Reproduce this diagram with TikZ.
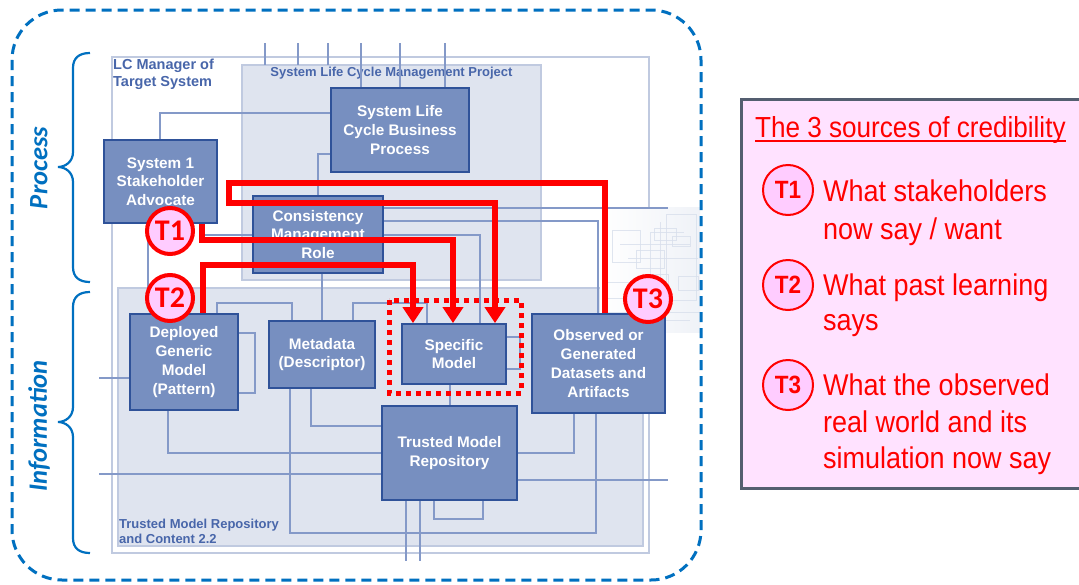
\documentclass[tikz,border=0pt]{standalone}
\usepackage{fontspec}
\setmainfont{Liberation Sans}
\newfontfamily\lgfont[FakeStretch=0.9]{Liberation Sans}
\newfontfamily\calfont{Carlito}
\usetikzlibrary{arrows.meta}

\definecolor{boxfill}{RGB}{119,143,192}
\definecolor{boxline}{RGB}{47,82,153}
\definecolor{areafill}{RGB}{223,228,239}
\definecolor{arealine}{RGB}{192,202,224}
\definecolor{wirecol}{RGB}{132,153,200}
\definecolor{labelblue}{RGB}{72,102,170}
\definecolor{frameblue}{RGB}{0,112,192}
\definecolor{tred}{RGB}{255,0,0}
\definecolor{tpink}{RGB}{255,204,255}
\definecolor{legendbg}{RGB}{255,226,255}
\definecolor{legendline}{RGB}{84,94,112}
\definecolor{ghost}{RGB}{216,223,236}

\begin{document}
\begin{tikzpicture}[x=1pt,y=-1pt,
  block/.style={draw=boxline, line width=1.8pt, fill=boxfill, text=white,
    font=\bfseries\fontsize{15.3}{18.7}\selectfont, align=center, inner sep=0pt},
  area/.style={draw=arealine, line width=1.2pt, fill=areafill},
  wire/.style={draw=wirecol, line width=1.3pt},
  feed/.style={draw=tred, line width=5.5pt, -{Triangle[width=20pt,length=16pt]}},
  tmark/.style={circle, draw=tred, line width=4pt, fill=tpink, minimum size=46pt,
    inner sep=0pt, text=tred, font=\calfont\bfseries\fontsize{30}{30}\selectfont},
  lmark/.style={circle, draw=tred, line width=2pt, fill=tpink, minimum size=50pt,
    inner sep=0pt, text=tred, font=\lgfont\bfseries\fontsize{25}{25}\selectfont},
  ltext/.style={text=tred, font=\lgfont\fontsize{30}{36}\selectfont,
    anchor=base west, inner sep=0pt},
  arealabel/.style={text=labelblue, inner sep=0pt, align=left},
  sidelabel/.style={rotate=90, text=frameblue, inner sep=0pt,
    font=\calfont\bfseries\itshape\fontsize{26.5}{26.5}\selectfont},
  brace/.style={draw=frameblue, line width=2.2pt},
  frame/.style={draw=frameblue, line width=3pt, dash pattern=on 10pt off 6pt,
    rounded corners=50pt}
]
\clip (0,0) rectangle (1079,584);
\fill[white] (0,0) rectangle (1079,584);

% containers
\draw[draw=arealine, line width=1.2pt, fill=white] (112,57) rectangle (649,553);
\draw[area] (242,65) rectangle (541,280);
\draw[area] (118,288) rectangle (643,546);

% faded overview sketch at the right edge
\shade[left color=white, right color=ghost!40] (600,207) rectangle (700,332);
\begin{scope}[draw=ghost, line width=0.7pt, opacity=0.8]
  \draw (612,230) rectangle (640,262);
  \draw (636,250) rectangle (664,268);
  \draw (654,228) rectangle (676,240);
  \draw (666,214) rectangle (696,300);
  \draw (672,236) rectangle (690,246);
  \draw (646,274) rectangle (668,290);
  \draw (678,276) rectangle (698,290);
  \draw (606,282) rectangle (640,298);
  \draw (620,244) -- (690,244);
  \draw (628,258) -- (698,258);
  \draw (650,300) -- (650,232) -- (684,232);
  \draw (660,222) -- (660,300);
  \draw (604,312) -- (700,312);
  \draw (615,320) -- (690,320);
\end{scope}

% area captions
\node[arealabel, anchor=north west, font=\bfseries\fontsize{14.5}{17}\selectfont]
  (lclabel) at (113,59) {LC Manager of\\Target System};
\node[arealabel, anchor=base, font=\bfseries\fontsize{13}{15}\selectfont]
  (projlabel) at (391.5,76) {System Life Cycle Management Project};
\node[arealabel, anchor=north west, font=\bfseries\fontsize{13}{15}\selectfont]
  (infolabel) at (119,519) {Trusted Model Repository\\and Content 2.2};

% blocks
\node[block, minimum width=138pt, minimum height=84pt] (slcbp) at (400,130)
  {System Life\\Cycle Business\\Process};
\node[block, minimum width=113pt, minimum height=83pt] (sys1) at (160.5,181.5)
  {System 1\\Stakeholder\\Advocate};
\node[block, minimum width=130pt, minimum height=77pt] (cmr) at (318,234.5)
  {Consistency\\Management\\Role};
\node[block, minimum width=108pt, minimum height=96pt] (dgm) at (184,362)
  {Deployed\\Generic\\Model\\(Pattern)};
\node[block, minimum width=106pt, minimum height=67pt] (meta) at (322,354.5)
  {Metadata\\(Descriptor)};
\node[block, minimum width=104pt, minimum height=60pt] (spec) at (454,354)
  {Specific\\Model};
\node[block, minimum width=135pt, minimum height=94pt] (tmr) at (449.5,453)
  {Trusted Model\\Repository};
\node[block, minimum width=133pt, minimum height=99pt] (obs) at (598.5,363.5)
  {Observed or\\Generated\\Datasets and\\Artifacts};

% free ends of the thin wires
\coordinate (in1) at (265,43); \coordinate (in2) at (298,43);
\coordinate (in3) at (328,43); \coordinate (in4) at (361,43);
\coordinate (in5) at (400,43); \coordinate (in6) at (445,43);
\coordinate (projtop) at (0,65);
\coordinate (sysdown) at (148,288);
\coordinate (outA) at (668,208);
\coordinate (outB) at (668,480);
\coordinate (leftA) at (99,378);
\coordinate (leftB) at (99,474);
\coordinate (downA) at (406,561);
\coordinate (downB) at (420,561);

% thin wires
\draw[wire] (in1) -- (in1 |- projtop);
\draw[wire] (in2) -- (in2 |- projtop);
\draw[wire] (in3) -- (in3 |- projtop);
\draw[wire] (in4) -- (in4 |- slcbp.north);
\draw[wire] (in5) -- (in5 |- slcbp.north);
\draw[wire] (in6) -- (in6 |- slcbp.north);
\draw[wire] (sys1.north -| 160,0) |- (slcbp.west |- 0,113);
\draw[wire] (slcbp.west |- 0,154) -| (cmr.north);
\draw[wire] (sys1.south -| sysdown) -- (sysdown);
\draw[wire] (sys1.south -| 200,0) |- (cmr.west |- 0,235);
\draw[wire] (cmr.east |- outA) -- (outA);
\draw[wire] (cmr.east |- 0,221) -| (obs.north -| 598,0);
\draw[wire] (cmr.east |- 0,235) -| (spec.north -| 480,0);
\draw[wire] (cmr.south -| 322,0) -- (meta.north -| 322,0);
\draw[wire] (dgm.north -| 217,0) |- (292,303) -- (meta.north -| 292,0);
\draw[wire] (meta.north -| 353,0) |- (427,303) -- (spec.north -| 427,0);
\draw[wire] (dgm.east |- 0,333) -| (255,393) -- (dgm.east |- 0,393);
\draw[wire] (leftA) -- (dgm.west |- leftA);
\draw[wire] (dgm.south -| 168,0) |- (tmr.west |- 0,453);
\draw[wire] (leftB) -- (tmr.west |- leftB);
\draw[wire] (meta.south -| 290,0) |- (596,533) -- (obs.south -| 596,0);
\draw[wire] (meta.south -| 311,0) |- (tmr.west |- 0,426);
\draw[wire] (spec.south -| 450,0) -- (tmr.north -| 450,0);
\draw[wire] (spec.east |- 0,337) -| (520,369) -- (spec.east |- 0,369);
\draw[wire] (tmr.east |- 0,453) -| (obs.south -| 574,0);
\draw[wire] (tmr.east |- outB) -- (outB);
\draw[wire] (tmr.south -| downA) -- (downA);
\draw[wire] (tmr.south -| downB) -- (downB);
\draw[wire] (tmr.south -| 434,0) |- (483,519) -- (tmr.south -| 483,0);

% credibility feeds into the specific model
\draw[feed] (obs.north -| 605,0) -- (605,183) -- (229,183) -- (229,203)
  -- (495,203) -- (spec.north -| 495,0);
\draw[feed] (sys1.south -| 202,0) |- (453,240) -- (spec.north -| 453,0);
\draw[feed] (dgm.north -| 203,0) |- (413,265) -- (spec.north -| 413,0);
\draw[tred, line width=5pt, dash pattern=on 5pt off 5pt] (389,300) rectangle (521,393);

\node[tmark] (m1) at (170,231) {T1};
\node[tmark] (m2) at (170,298) {T2};
\node[tmark] (m3) at (648,299) {T3};

% side braces and captions
\draw[brace] (90,53) .. controls (79,53) and (73,58) .. (73,68) -- (73,152)
  .. controls (73,162) and (65,167) .. (58,167)
  .. controls (65,167) and (73,172) .. (73,182) -- (73,267)
  .. controls (73,277) and (79,282) .. (90,282);
\draw[brace] (90,292) .. controls (79,292) and (73,297) .. (73,307) -- (73,407)
  .. controls (73,417) and (65,422) .. (58,422)
  .. controls (65,422) and (73,427) .. (73,437) -- (73,538)
  .. controls (73,548) and (79,553) .. (90,553);
\node[sidelabel] (proc) at (39,168) {Process};
\node[sidelabel] (info) at (39,426) {Information};

% dashed outer frame
\draw[frame] (12,10) rectangle (701,580);

% legend
\draw[draw=legendline, line width=3pt, fill=legendbg] (741,99) rectangle (1090,488);
\node[text=tred, font=\lgfont\fontsize{29}{34}\selectfont, anchor=base west,
  inner sep=0pt] (title) at (755,137) {The 3 sources of credibility};
\draw[tred, line width=1.5pt] ([yshift=-4pt]title.base west) -- ([yshift=-4pt]title.base east);

\node[lmark] (k1) at (788,190) {T1};
\node[lmark] (k2) at (788,285) {T2};
\node[lmark] (k3) at (788,385) {T3};
\node[ltext] (k1a) at (823,201) {What stakeholders};
\node[ltext] (k1b) at (823,239) {now say / want};
\node[ltext] (k2a) at (823,295) {What past learning};
\node[ltext] (k2b) at (823,330) {says};
\node[ltext] (k3a) at (823,395) {What the observed};
\node[ltext] (k3b) at (823,432) {real world and its};
\node[ltext] (k3c) at (823,468) {simulation now say};
\end{tikzpicture}
\end{document}
